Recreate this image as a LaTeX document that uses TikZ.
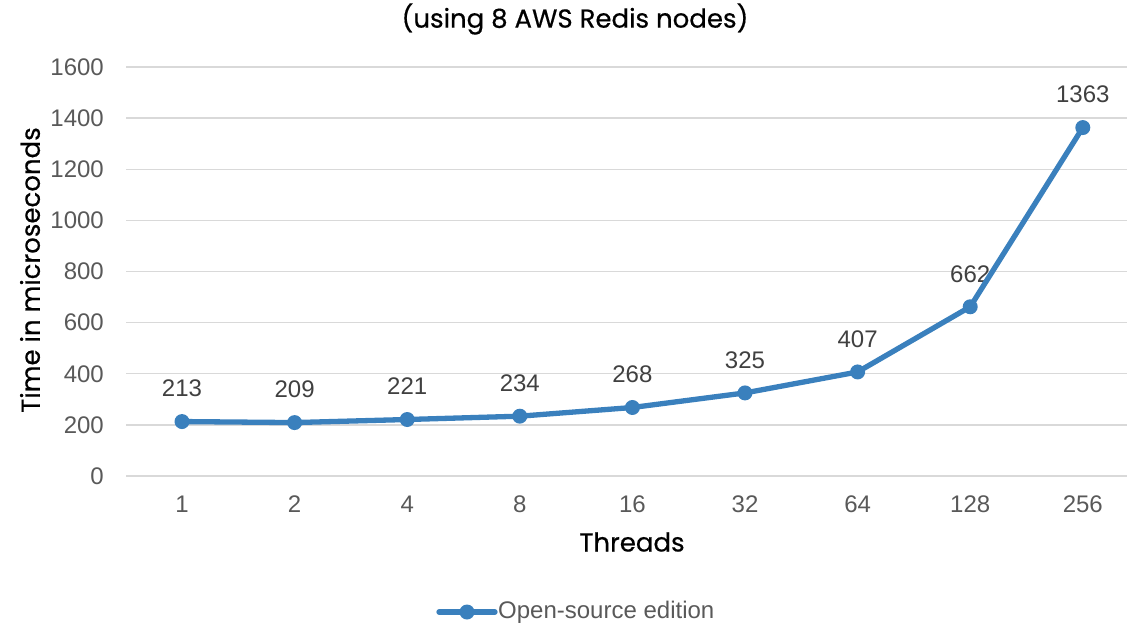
\documentclass[tikz,border=0pt]{standalone}
\usepackage{fontspec}
\setmainfont{Liberation Sans}
\newfontfamily\titlefont[FakeBold=0.5]{Poppins}
\definecolor{serieblue}{RGB}{58,128,189}
\definecolor{gridgray}{RGB}{217,217,217}
\definecolor{ticktext}{RGB}{89,89,89}
\definecolor{valtext}{RGB}{64,64,64}
\begin{document}
\begin{tikzpicture}[x=1pt,y=-1pt,
  gridline/.style={draw=gridgray,line width=1.3pt},
  ticklab/.style={text=ticktext,font=\fontsize{24}{24}\selectfont,inner sep=0pt},
  vallab/.style={text=valtext,font=\fontsize{24}{24}\selectfont,inner sep=0pt},
  axtitle/.style={text=black,font=\titlefont\fontsize{26}{26}\selectfont,inner sep=0pt},
  serie/.style={draw=serieblue,line width=5.3pt,line join=round,line cap=round},
  dot/.style={circle,fill=serieblue,inner sep=0pt,minimum size=15pt}]
\useasboundingbox (0,0) rectangle (1127,624);
% grid and y ticks
\foreach \v [count=\i from 0] in {0,200,400,600,800,1000,1200,1400,1600}{
  \pgfmathsetmacro{\yy}{476-\v*0.25563}
  \coordinate (gl\i) at (126,\yy);
  \coordinate (gr\i) at (1127,\yy);
  \draw[gridline] (gl\i) -- (gr\i);
  \node[ticklab,anchor=east] (yt\i) at (104,\yy) {\v};
}
% data
\foreach \t/\v [count=\i from 0] in {1/213,2/209,4/221,8/234,16/268,32/325,64/407,128/662,256/1363}{
  \pgfmathsetmacro{\xx}{182+\i*112.6}
  \pgfmathsetmacro{\yy}{476-\v*0.25563}
  \pgfmathsetmacro{\ly}{\yy-33}
  \coordinate (p\i) at (\xx,\yy);
  \node[ticklab] (xt\i) at (\xx,504) {\t};
  \node[vallab] (vl\i) at (\xx,\ly) {\v};
}
\draw[serie] (p0) -- (p1) -- (p2) -- (p3) -- (p4) -- (p5) -- (p6) -- (p7) -- (p8);
\foreach \i in {0,...,8}{\node[dot] (m\i) at (p\i) {};}
% titles
\node[axtitle] (title) at (575,19) {(using 8 AWS Redis nodes)};
\node[axtitle] (xtitle) at (632,542) {Threads};
\node[axtitle,rotate=90] (ytitle) at (30,270) {Time in microseconds};
% legend
\coordinate (la) at (439,612);
\coordinate (lb) at (495,612);
\draw[serie] (la) -- (lb);
\node[dot] (lm) at (467,612) {};
\node[ticklab,anchor=west] (legtext) at (498,612) {Open-source edition};
\end{tikzpicture}
\end{document}
